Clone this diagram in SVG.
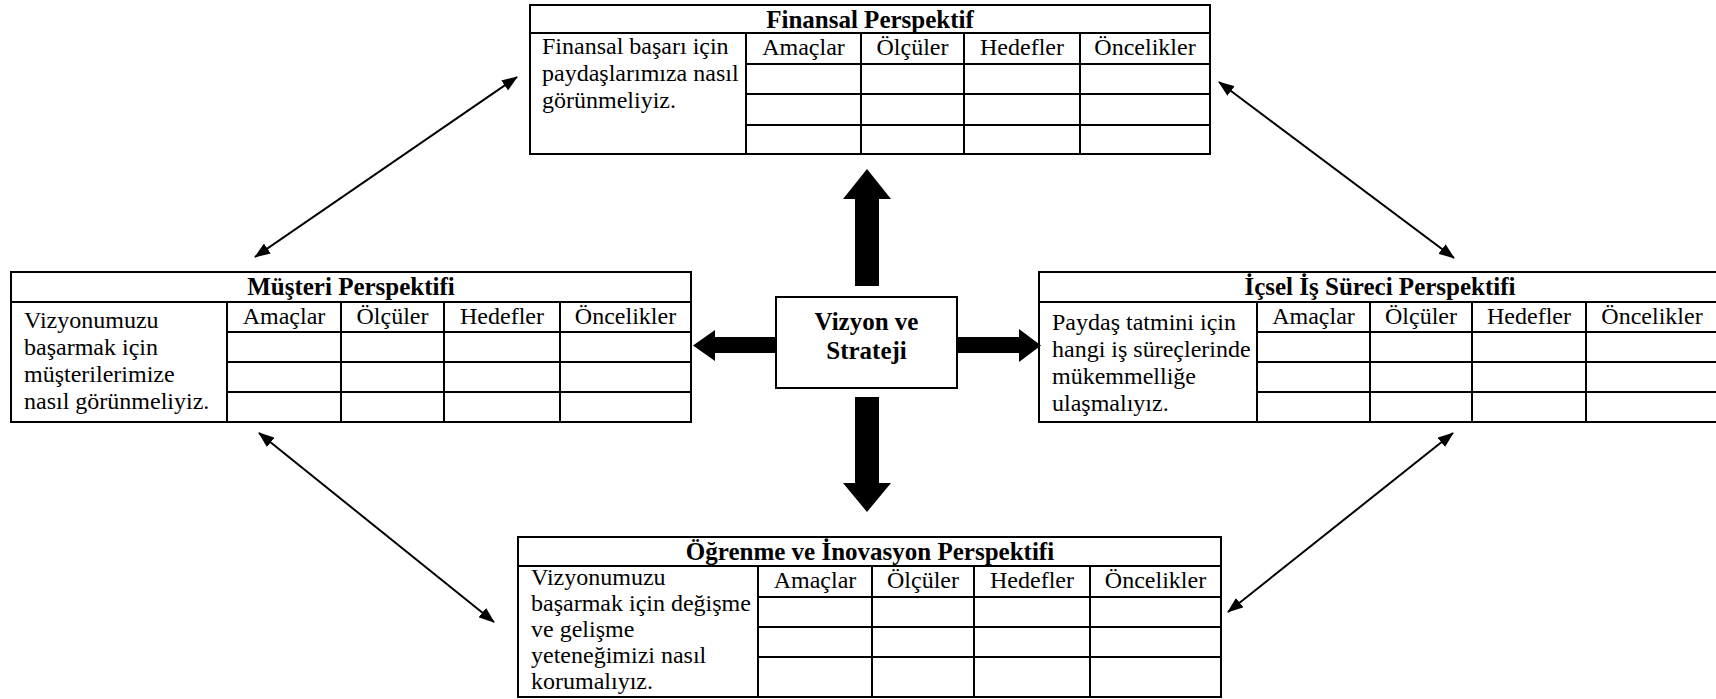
<svg xmlns="http://www.w3.org/2000/svg" width="1716" height="699" viewBox="0 0 1716 699">
  <style>
    .frame { fill: #ffffff; stroke: #000000; stroke-width: 2; }
    .grid { stroke: #000000; stroke-width: 2; fill: none; }
    .title { font-family: "Liberation Serif", "Times New Roman", serif; font-weight: bold; font-size: 25px; fill: #000000; text-anchor: middle; }
    .head { font-family: "Liberation Serif", "Times New Roman", serif; font-size: 24px; fill: #000000; text-anchor: middle; }
    .body { font-family: "Liberation Serif", "Times New Roman", serif; font-size: 24px; fill: #000000; }
    .thin { stroke: #000000; stroke-width: 2; fill: none; marker-start: url(#tip); marker-end: url(#tip); }
    .block { fill: #000000; }
  </style>
  <defs>
    <marker id="tip" viewBox="0 0 16 12" refX="15" refY="6" markerWidth="16" markerHeight="12" markerUnits="userSpaceOnUse" orient="auto-start-reverse">
      <path d="M0,0 L16,6 L0,12 z" fill="#000000"/>
    </marker>
  </defs>
  <rect width="1716" height="699" fill="#ffffff"/>

  <!-- Finansal Perspektif -->
  <g id="finansal">
    <rect class="frame" x="530" y="5" width="680" height="149"/>
    <path class="grid" d="M530,33 H1210 M746,64 H1210 M746,94 H1210 M746,125 H1210 M746,33 V154 M861,33 V154 M964,33 V154 M1080,33 V154"/>
    <text class="title" x="870" y="28">Finansal Perspektif</text>
    <text class="head" x="803.5" y="55">Amaçlar</text>
    <text class="head" x="912.5" y="55">Ölçüler</text>
    <text class="head" x="1022" y="55">Hedefler</text>
    <text class="head" x="1145" y="55">Öncelikler</text>
    <text class="body" x="542" y="54">Finansal başarı için</text>
    <text class="body" x="542" y="81">paydaşlarımıza nasıl</text>
    <text class="body" x="542" y="108">görünmeliyiz.</text>
  </g>

  <!-- Müşteri Perspektifi -->
  <g id="musteri">
    <rect class="frame" x="11" y="272" width="680" height="150"/>
    <path class="grid" d="M11,302 H691 M227,332 H691 M227,362 H691 M227,392 H691 M227,302 V422 M341,302 V422 M444,302 V422 M560,302 V422"/>
    <text class="title" x="351" y="295">Müşteri Perspektifi</text>
    <text class="head" x="284" y="324">Amaçlar</text>
    <text class="head" x="392.5" y="324">Ölçüler</text>
    <text class="head" x="502" y="324">Hedefler</text>
    <text class="head" x="625.5" y="324">Öncelikler</text>
    <text class="body" x="24" y="328">Vizyonumuzu</text>
    <text class="body" x="24" y="355">başarmak için</text>
    <text class="body" x="24" y="382">müşterilerimize</text>
    <text class="body" x="24" y="409">nasıl görünmeliyiz.</text>
  </g>

  <!-- İçsel İş Süreci Perspektifi -->
  <g id="icsel">
    <rect class="frame" x="1039" y="272" width="680" height="150"/>
    <path class="grid" d="M1039,302 H1719 M1257,332 H1719 M1257,362 H1719 M1257,392 H1719 M1257,302 V422 M1370,302 V422 M1472,302 V422 M1586,302 V422"/>
    <text class="title" x="1380" y="295">İçsel İş Süreci Perspektifi</text>
    <text class="head" x="1313.5" y="324">Amaçlar</text>
    <text class="head" x="1421" y="324">Ölçüler</text>
    <text class="head" x="1529" y="324">Hedefler</text>
    <text class="head" x="1652" y="324">Öncelikler</text>
    <text class="body" x="1052" y="330">Paydaş tatmini için</text>
    <text class="body" x="1052" y="357">hangi iş süreçlerinde</text>
    <text class="body" x="1052" y="384">mükemmelliğe</text>
    <text class="body" x="1052" y="411">ulaşmalıyız.</text>
  </g>

  <!-- Öğrenme ve İnovasyon Perspektifi -->
  <g id="ogrenme">
    <rect class="frame" x="518" y="537" width="703" height="160"/>
    <path class="grid" d="M518,566 H1221 M758,597 H1221 M758,627 H1221 M758,657 H1221 M758,566 V697 M872,566 V697 M974,566 V697 M1090,566 V697"/>
    <text class="title" x="870" y="560">Öğrenme ve İnovasyon Perspektifi</text>
    <text class="head" x="815" y="588">Amaçlar</text>
    <text class="head" x="923" y="588">Ölçüler</text>
    <text class="head" x="1032" y="588">Hedefler</text>
    <text class="head" x="1155.5" y="588">Öncelikler</text>
    <text class="body" x="531" y="585">Vizyonumuzu</text>
    <text class="body" x="531" y="611">başarmak için değişme</text>
    <text class="body" x="531" y="637">ve gelişme</text>
    <text class="body" x="531" y="663">yeteneğimizi nasıl</text>
    <text class="body" x="531" y="689">korumalıyız.</text>
  </g>

  <!-- Vizyon ve Strateji -->
  <g id="vizyon">
    <rect class="frame" x="776" y="297" width="181" height="91"/>
    <text class="title" x="866.5" y="330">Vizyon ve</text>
    <text class="title" x="866.5" y="359">Strateji</text>
  </g>

  <!-- connectors -->
  <g id="connectors">
    <!-- block arrows from the centre -->
    <polygon class="block" points="855,286 855,199 843,199 867,169 891,199 879,199 879,286"/>
    <polygon class="block" points="855,397 855,483 843,483 867,512 891,483 879,483 879,397"/>
    <polygon class="block" points="776,337 715,337 715,330 693,345.5 715,361 715,353 776,353"/>
    <polygon class="block" points="957,337 1019,337 1019,329 1041,345.5 1019,362 1019,353 957,353"/>
    <!-- two-way links between neighbouring perspectives -->
    <line class="thin" x1="255" y1="257" x2="517" y2="77"/>
    <line class="thin" x1="1219" y1="82" x2="1454" y2="258"/>
    <line class="thin" x1="259" y1="433" x2="494" y2="622"/>
    <line class="thin" x1="1453" y1="433" x2="1228" y2="612"/>
  </g>
</svg>
